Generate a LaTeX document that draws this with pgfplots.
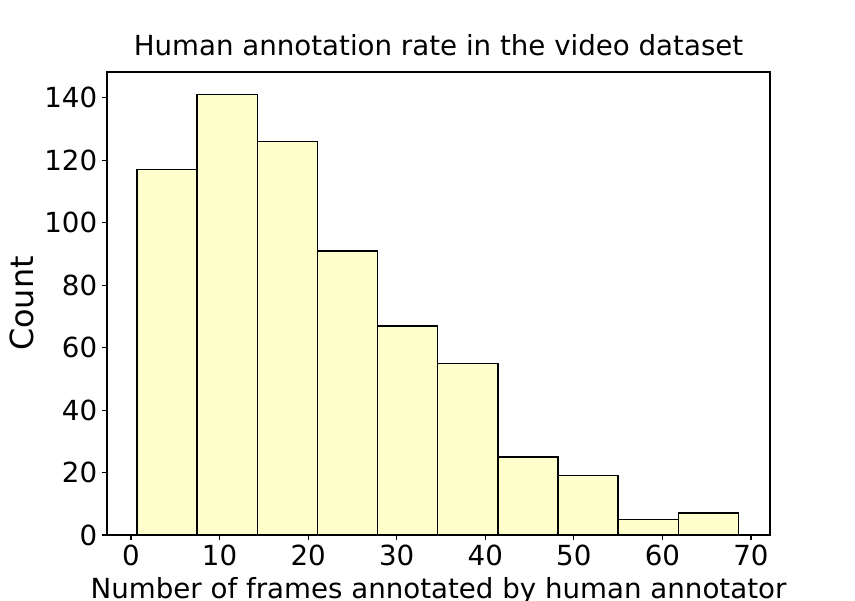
\documentclass[border=0pt]{standalone}
\usepackage{fontspec}
\setmainfont{DejaVu Sans}
\usepackage{pgfplots}
\pgfplotsset{compat=1.18}
\definecolor{barfill}{HTML}{FFFFCC}

\begin{document}
\begin{tikzpicture}
\begin{axis}[
scale only axis,width=6.63in,height=4.63in,
xmin=-2.71,xmax=72.15,ymin=0,ymax=148.3,
xtick={0,10,...,70},ytick={0,20,...,140},
tick align=outside,tick pos=left,
major tick length=0.049in,
axis line style={line width=0.8bp},
every tick/.style={black,line width=0.8bp},
/pgf/number format/assume math mode=true,
tick label style={font=\fontsize{20}{24}\selectfont},
title={Human annotation rate in the video dataset},
title style={font=\fontsize{20}{24}\selectfont,at={(axis description cs:0.5,1.0173)},anchor=base},
xlabel={Number of frames annotated by human annotator},
xlabel style={font=\fontsize{20}{24}\selectfont,at={(axis description cs:0.5,-0.1382)},anchor=base},
ylabel={Count},
ylabel style={font=\fontsize{23}{27}\selectfont,at={(axis description cs:-0.1116,0.5)},anchor=base},
]
\addplot[ybar interval,fill=barfill,draw=black,line width=1bp] coordinates {
(0.68,117) (7.47,141) (14.26,126) (21.05,91) (27.84,67)
(34.63,55) (41.42,25) (48.21,19) (55.00,5) (61.79,7) (68.58,7)
};
\coordinate (ll) at (rel axis cs:0,0);
\coordinate (ur) at (rel axis cs:1,1);
\end{axis}
\pgfresetboundingbox
\path[use as bounding box] ([shift={(-1.07in,-0.66in)}]ll) rectangle ([shift={(0.85in,0.72in)}]ur);
\end{tikzpicture}
\end{document}
